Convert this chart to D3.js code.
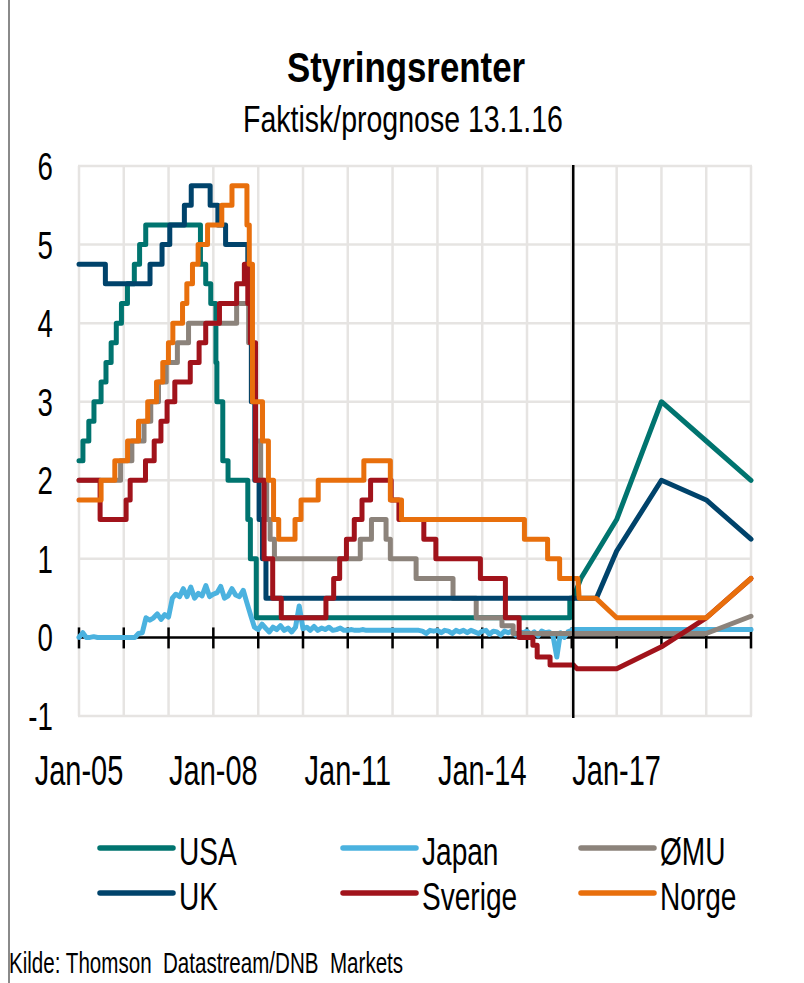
<!DOCTYPE html>
<html>
<head>
<meta charset="utf-8">
<script src="https://cdnjs.cloudflare.com/ajax/libs/d3/7.8.5/d3.min.js"></script>
<style>
  html, body { margin: 0; padding: 0; background: #fff; }
  text { font-family: "Liberation Sans", Arial, sans-serif; fill: #000; }
</style>
</head>
<body>
<div id="chart"></div>
<script>
(function() {
  // series names and colours, in legend order (row by row)
  var seriesNames = ['USA', 'Japan', 'ØMU', 'UK', 'Sverige', 'Norge'];
  var seriesColors = ['#00746F', '#4BB2DF', '#8C837B', '#00436B', '#A1131B', '#E86F0C'];

  // policy rates, change dates (step series)
  var usaActual = [
    ['2005-01-01', 2.25], ['2005-02-02', 2.5], ['2005-03-22', 2.75], ['2005-05-03', 3.0],
    ['2005-06-30', 3.25], ['2005-08-09', 3.5], ['2005-09-20', 3.75], ['2005-11-01', 4.0],
    ['2005-12-13', 4.25], ['2006-01-31', 4.5], ['2006-03-28', 4.75], ['2006-05-10', 5.0],
    ['2006-06-29', 5.25], ['2007-09-18', 4.75], ['2007-10-31', 4.5], ['2007-12-11', 4.25],
    ['2008-01-22', 3.5], ['2008-01-30', 3.0], ['2008-03-18', 2.25], ['2008-04-30', 2.0],
    ['2008-10-08', 1.5], ['2008-10-29', 1.0], ['2008-12-16', 0.25], ['2015-12-16', 0.5]
  ];
  var ukActual = [
    ['2005-01-01', 4.75], ['2005-08-04', 4.5], ['2006-08-03', 4.75], ['2006-11-09', 5.0],
    ['2007-01-11', 5.25], ['2007-05-10', 5.5], ['2007-07-05', 5.75], ['2007-12-06', 5.5],
    ['2008-02-07', 5.25], ['2008-04-10', 5.0], ['2008-10-08', 4.5], ['2008-11-06', 3.0],
    ['2008-12-04', 2.0], ['2009-01-08', 1.5], ['2009-02-05', 1.0], ['2009-03-05', 0.5]
  ];
  var emuActual = [
    ['2005-01-01', 2.0], ['2005-12-06', 2.25], ['2006-03-08', 2.5], ['2006-06-15', 2.75],
    ['2006-08-09', 3.0], ['2006-10-11', 3.25], ['2006-12-13', 3.5], ['2007-03-14', 3.75],
    ['2007-06-13', 4.0], ['2008-07-09', 4.25], ['2008-10-15', 3.75], ['2008-11-12', 3.25],
    ['2008-12-10', 2.5], ['2009-01-21', 2.0], ['2009-03-11', 1.5], ['2009-04-08', 1.25],
    ['2009-05-13', 1.0], ['2011-04-13', 1.25], ['2011-07-13', 1.5], ['2011-11-09', 1.25],
    ['2011-12-14', 1.0], ['2012-07-11', 0.75], ['2013-05-08', 0.5], ['2013-11-13', 0.25],
    ['2014-06-11', 0.15], ['2014-09-10', 0.05]
  ];
  var swedenActual = [
    ['2005-01-01', 2.0], ['2005-06-22', 1.5], ['2006-01-20', 1.75], ['2006-02-22', 2.0],
    ['2006-06-27', 2.25], ['2006-09-06', 2.5], ['2006-10-31', 2.75], ['2006-12-20', 3.0],
    ['2007-02-21', 3.25], ['2007-06-27', 3.5], ['2007-09-07', 3.75], ['2007-10-31', 4.0],
    ['2008-02-20', 4.25], ['2008-07-09', 4.5], ['2008-09-10', 4.75], ['2008-10-08', 4.25],
    ['2008-10-29', 3.75], ['2008-12-10', 2.0], ['2009-02-18', 1.0], ['2009-04-29', 0.5],
    ['2009-07-08', 0.25], ['2010-07-07', 0.5], ['2010-09-08', 0.75], ['2010-10-27', 1.0],
    ['2010-12-21', 1.25], ['2011-02-23', 1.5], ['2011-04-27', 1.75], ['2011-07-06', 2.0],
    ['2011-12-21', 1.75], ['2012-02-22', 1.5], ['2012-09-12', 1.25], ['2012-12-19', 1.0],
    ['2013-12-17', 0.75], ['2014-07-09', 0.25], ['2014-10-29', 0.0], ['2015-02-18', -0.1],
    ['2015-03-25', -0.25], ['2015-07-08', -0.35]
  ];
  var norwayActual = [
    ['2005-01-01', 1.75], ['2005-06-30', 2.0], ['2005-10-20', 2.25], ['2006-02-01', 2.5],
    ['2006-05-01', 2.75], ['2006-07-15', 3.0], ['2006-09-25', 3.25], ['2006-11-15', 3.5],
    ['2006-12-31', 3.75], ['2007-02-05', 4.0], ['2007-04-25', 4.25], ['2007-05-30', 4.5],
    ['2007-07-15', 4.75], ['2007-08-30', 5.0], ['2007-11-15', 5.25], ['2008-03-10', 5.5],
    ['2008-06-01', 5.75], ['2008-10-01', 5.25], ['2008-10-20', 4.75], ['2008-11-15', 3.0],
    ['2009-02-05', 2.5], ['2009-03-25', 2.0], ['2009-05-06', 1.5], ['2009-06-17', 1.25],
    ['2009-10-28', 1.5], ['2009-12-16', 1.75], ['2010-05-05', 2.0], ['2011-05-12', 2.25],
    ['2011-12-14', 1.75], ['2012-03-14', 1.5], ['2014-12-11', 1.25], ['2015-06-18', 1.0],
    ['2015-09-24', 0.75]
  ];

  // Japan, monthly from Jan 2005 to Jan 2016
  var japanMonthly = [
    0.00, 0.06, 0.00, 0.00, 0.01, 0.00, 0.00, 0.00, 0.00, 0.00, 0.00, 0.00,
    0.00, 0.00, 0.00, 0.00, 0.05, 0.06, 0.25, 0.22, 0.25, 0.30, 0.23, 0.29,
    0.26, 0.50, 0.55, 0.52, 0.62, 0.52, 0.64, 0.50, 0.56, 0.53, 0.66, 0.52,
    0.55, 0.57, 0.65, 0.50, 0.53, 0.62, 0.54, 0.52, 0.60, 0.44, 0.28, 0.13,
    0.10, 0.17, 0.12, 0.07, 0.13, 0.10, 0.15, 0.09, 0.12, 0.07, 0.13, 0.40,
    0.11, 0.13, 0.09, 0.14, 0.09, 0.12, 0.10, 0.13, 0.09, 0.10, 0.12, 0.09,
    0.09, 0.10, 0.09, 0.09, 0.10, 0.09, 0.09, 0.09, 0.09, 0.09, 0.09, 0.09,
    0.09, 0.09, 0.09, 0.09, 0.09, 0.09, 0.09, 0.09, 0.08, 0.05, 0.09, 0.08,
    0.09, 0.06, 0.09, 0.08, 0.05, 0.09, 0.07, 0.09, 0.06, 0.09, 0.07, 0.05,
    0.08, 0.09, 0.04, 0.08, 0.07, 0.03, 0.08, 0.06, 0.08, 0.03, 0.07, 0.06,
    0.08, 0.04, 0.07, 0.02, 0.08, 0.06, 0.07, 0.02, -0.25, 0.06, 0.00, 0.07,
    0.09
  ];

  // forecasts from 13.1.16 (linear)
  var forecastDate = '2016-01-13';
  var usaForecast = [['2016-01-13', 0.5], ['2016-03-15', 0.75], ['2017-01-01', 1.5], ['2018-01-01', 3.0], ['2019-01-01', 2.5], ['2020-01-01', 2.0]];
  var japanForecast = [['2016-01-13', 0.1], ['2020-01-01', 0.1]];
  var emuForecast = [['2016-01-13', 0.05], ['2019-01-01', 0.05], ['2020-01-01', 0.27]];
  var ukForecast = [['2016-01-13', 0.5], ['2016-07-20', 0.5], ['2017-01-01', 1.1], ['2018-01-01', 2.0], ['2019-01-01', 1.75], ['2020-01-01', 1.25]];
  var swedenForecast = [['2016-01-13', -0.35], ['2016-02-15', -0.4], ['2017-01-01', -0.4], ['2018-01-01', -0.12], ['2019-01-01', 0.25], ['2020-01-01', 0.75]];
  var norwayForecast = [['2016-01-13', 0.75], ['2016-02-20', 0.75], ['2016-03-01', 0.5], ['2016-07-15', 0.5], ['2017-01-01', 0.25], ['2019-01-01', 0.25], ['2020-01-01', 0.75]];

  var labelYears = [2005, 2008, 2011, 2014, 2017];
  var yTicks = [-1, 0, 1, 2, 3, 4, 5, 6];

  var parse = d3.timeParse('%Y-%m-%d');

  var svg = d3.select('#chart')
    .append('svg')
    .attr('width', 804)
    .attr('height', 983);

  var x = d3.scaleTime()
    .domain([new Date(2005, 0, 1), new Date(2020, 0, 1)])
    .range([79, 751]);

  var y = d3.scaleLinear()
    .domain([-1, 6])
    .range([716, 166]);

  // narrow text: draw normal and squeeze horizontally
  function label(txt, px, py, size, sx, anchor, weight) {
    return svg.append('text')
      .attr('transform', 'translate(' + px + ',' + py + ') scale(' + sx + ',1)')
      .attr('text-anchor', anchor)
      .style('font-size', size + 'px')
      .style('font-weight', weight || 'normal')
      .style('white-space', 'pre')
      .text(txt);
  }

  // frame line on the left
  svg.append('line')
    .attr('x1', 9).attr('x2', 9)
    .attr('y1', 0).attr('y2', 983)
    .attr('stroke', '#8a8a8a')
    .attr('stroke-width', 2);

  label('Styringsrenter', 406, 82, 42, 0.83, 'middle', 'bold');
  label('Faktisk/prognose 13.1.16', 403, 132, 37, 0.77, 'middle');

  // grid
  var years = x.ticks(d3.timeYear.every(1));
  svg.append('g').selectAll('line')
    .data(years)
    .enter().append('line')
    .attr('x1', function(d) { return x(d); })
    .attr('x2', function(d) { return x(d); })
    .attr('y1', y(6))
    .attr('y2', y(-1))
    .attr('stroke', '#e6e4e2')
    .attr('stroke-width', 2.5);

  svg.append('g').selectAll('line')
    .data(yTicks.filter(function(v) { return v !== 0; }))
    .enter().append('line')
    .attr('x1', x.range()[0] - 1)
    .attr('x2', x.range()[1] + 1)
    .attr('y1', function(d) { return y(d); })
    .attr('y2', function(d) { return y(d); })
    .attr('stroke', '#e6e4e2')
    .attr('stroke-width', 2.5);

  // zero axis with year ticks
  svg.append('line')
    .attr('x1', x.range()[0] - 1)
    .attr('x2', x.range()[1] + 1)
    .attr('y1', y(0))
    .attr('y2', y(0))
    .attr('stroke', '#000')
    .attr('stroke-width', 2.5);

  svg.append('g').selectAll('line')
    .data(years)
    .enter().append('line')
    .attr('x1', function(d) { return x(d); })
    .attr('x2', function(d) { return x(d); })
    .attr('y1', y(0) - 10)
    .attr('y2', y(0) + 11)
    .attr('stroke', '#000')
    .attr('stroke-width', 2.5);

  // axis labels
  yTicks.forEach(function(v) {
    label(String(v), 53, y(v) + 14, 39, 0.71, 'end');
  });

  var fmt = d3.timeFormat('%b-%y');
  labelYears.forEach(function(yr) {
    var d = new Date(yr, 0, 1);
    label(fmt(d), x(d), 785, 42, 0.69, 'middle');
  });

  // series
  var stepLine = d3.line()
    .x(function(d) { return x(d[0]); })
    .y(function(d) { return y(d[1]); })
    .curve(d3.curveStepAfter);

  var straightLine = d3.line()
    .x(function(d) { return x(d[0]); })
    .y(function(d) { return y(d[1]); });

  var fDate = parse(forecastDate);

  function stepped(rows) {
    var pts = rows.map(function(r) { return [parse(r[0]), r[1]]; });
    pts.push([fDate, pts[pts.length - 1][1]]);
    return pts;
  }

  function points(rows) {
    return rows.map(function(r) { return [parse(r[0]), r[1]]; });
  }

  var japanPts = japanMonthly.map(function(v, i) {
    return [new Date(2005, i, 1), v];
  });
  japanPts.push([fDate, 0.1]);

  var actuals = [stepped(usaActual), japanPts, stepped(emuActual), stepped(ukActual), stepped(swedenActual), stepped(norwayActual)];
  var forecasts = [usaForecast, japanForecast, emuForecast, ukForecast, swedenForecast, norwayForecast];

  seriesNames.forEach(function(name, i) {
    var g = svg.append('g').attr('class', 'series');
    g.append('path')
      .attr('d', i === 1 ? straightLine(actuals[i]) : stepLine(actuals[i]))
      .attr('fill', 'none')
      .attr('stroke', seriesColors[i])
      .attr('stroke-width', 5)
      .attr('stroke-linejoin', 'round')
      .attr('stroke-linecap', 'round');
    g.append('path')
      .attr('d', straightLine(points(forecasts[i])))
      .attr('fill', 'none')
      .attr('stroke', seriesColors[i])
      .attr('stroke-width', 5)
      .attr('stroke-linejoin', 'round')
      .attr('stroke-linecap', 'round');
  });

  // forecast marker
  svg.append('line')
    .attr('x1', x(fDate)).attr('x2', x(fDate))
    .attr('y1', y(6) - 1).attr('y2', y(-1) + 2)
    .attr('stroke', '#000')
    .attr('stroke-width', 2.5);

  // legend
  var legX = [100, 343, 581];
  var legY = [848, 893];
  seriesNames.forEach(function(name, i) {
    var lx = legX[i % 3];
    var ly = legY[Math.floor(i / 3)];
    svg.append('line')
      .attr('x1', lx).attr('x2', lx + 73)
      .attr('y1', ly).attr('y2', ly)
      .attr('stroke', seriesColors[i])
      .attr('stroke-width', 5.5)
      .attr('stroke-linecap', 'round');
    label(name, lx + 79, ly + 17, 39, 0.72, 'start');
  });

  label('Kilde: Thomson  Datastream/DNB  Markets', 9, 973, 30, 0.686, 'start');
}());
</script>
</body>
</html>
